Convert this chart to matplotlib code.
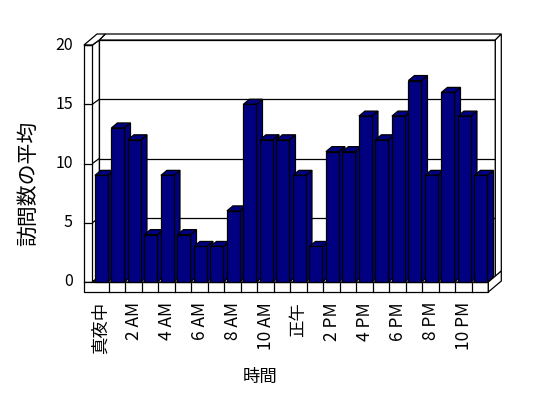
import matplotlib
matplotlib.use('Agg')
import matplotlib.pyplot as plt
from matplotlib.patches import Polygon

plt.rcParams['font.family'] = ['Noto Sans CJK JP', 'DejaVu Sans']

# data
hours = ['真夜中', '1 AM', '2 AM', '3 AM', '4 AM', '5 AM', '6 AM', '7 AM', '8 AM', '9 AM',
         '10 AM', '11 AM', '正午', '1 PM', '2 PM', '3 PM', '4 PM', '5 PM', '6 PM', '7 PM',
         '8 PM', '9 PM', '10 PM', '11 PM']
visits = [9, 13, 12, 4, 9, 4, 3, 3, 6, 15, 12, 12, 9, 3, 11, 11, 14, 12, 14, 17, 9, 16, 14, 9]
yticks = [0, 5, 10, 15, 20]

# pixel scale of the front plane
PX = 16.5    # px per category
PY = 11.85   # px per value unit
X0 = 92.3    # px of category 0
Y0 = 282.0   # px (from top) of value 0
W, H = 548, 398

N = len(visits)
VMAX = 20
wdx, wdy = 7 / PX, 5 / PY      # depth to back wall
tdx, tdy = 6 / PX, 6 / PY      # wall thickness
bdx, bdy = 6 / PX, 5 / PY      # bar depth
lw_ = 8.3 / PX                 # left wall front thickness
fth = 10 / PY                  # floor thickness
navy = '#000080'
LW = 0.9

fig = plt.figure(figsize=(W / 100, H / 100), dpi=100)
ax = fig.add_axes([0, 0, 1, 1])
ax.set_xlim(-X0 / PX, (W - X0) / PX)
ax.set_ylim((Y0 - H) / PY, Y0 / PY)
ax.axis('off')


def poly(pts, fc='white', z=1):
    ax.add_patch(Polygon(pts, closed=True, facecolor=fc, edgecolor='black', lw=LW, zorder=z))


# back wall
poly([(wdx, wdy), (N + wdx, wdy), (N + wdx, VMAX + wdy), (wdx, VMAX + wdy)])
for v in yticks[1:-1]:
    ax.plot([wdx, N + wdx], [v + wdy, v + wdy], color='black', lw=LW, zorder=1)
poly([(wdx, VMAX + wdy), (wdx + tdx, VMAX + wdy + tdy),
      (N + wdx + tdx, VMAX + wdy + tdy), (N + wdx, VMAX + wdy)])
poly([(N + wdx, wdy), (N + wdx, VMAX + wdy),
      (N + wdx + tdx, VMAX + wdy + tdy), (N + wdx + tdx, wdy + tdy)])

# left wall
poly([(0, 0), (wdx, wdy), (wdx, VMAX + wdy), (0, VMAX)], z=2)
for v in yticks:
    ax.plot([0, wdx], [v, v + wdy], color='black', lw=LW, zorder=2)
poly([(-lw_, VMAX), (0, VMAX), (wdx, VMAX + wdy), (wdx + tdx, VMAX + wdy + tdy),
      (-lw_ + wdx + tdx, VMAX + wdy + tdy)], z=2)
poly([(-lw_, 0), (0, 0), (0, VMAX), (-lw_, VMAX)], z=2)
for v in yticks:
    ax.plot([-lw_, 0], [v, v], color='black', lw=LW, zorder=2)
    ax.text((73 - X0) / PX, v, str(v), ha='right', va='center', fontsize=11.5)

# floor
poly([(0, 0), (wdx, wdy), (N + wdx, wdy), (N, 0)], z=2)
poly([(-lw_, -fth), (N, -fth), (N, 0), (-lw_, 0)], z=2)
for i in range(1, N):
    ax.plot([i, i], [-fth, 0], color='black', lw=LW, zorder=2)
poly([(N, -fth), (N, 0), (N + wdx + tdx, wdy + tdy), (N + wdx + tdx, wdy + tdy - fth)], z=2)

# bars
for i, v in enumerate(visits):
    x0 = i + 0.16
    x1 = x0 + 0.79
    poly([(x1, 0), (x1 + bdx, bdy), (x1 + bdx, v + bdy), (x1, v)], fc=navy, z=3)
    poly([(x0, v), (x0 + bdx, v + bdy), (x1 + bdx, v + bdy), (x1, v)], fc=navy, z=3)
    poly([(x0, 0), (x1, 0), (x1, v), (x0, v)], fc=navy, z=3)

# category labels
for i in range(0, N, 2):
    ax.text(i + 0.5, (Y0 - 302) / PY, hours[i], rotation=90, ha='center', va='top',
            fontsize=12.5)

ax.text((260 - X0) / PX, (Y0 - 377) / PY, '時間', ha='center', va='center', fontsize=12.5)
ax.text((28 - X0) / PX, (Y0 - 183) / PY, '訪問数の平均', rotation=90, ha='center',
        va='center', fontsize=15)

fig.savefig('out.png', dpi=100)
